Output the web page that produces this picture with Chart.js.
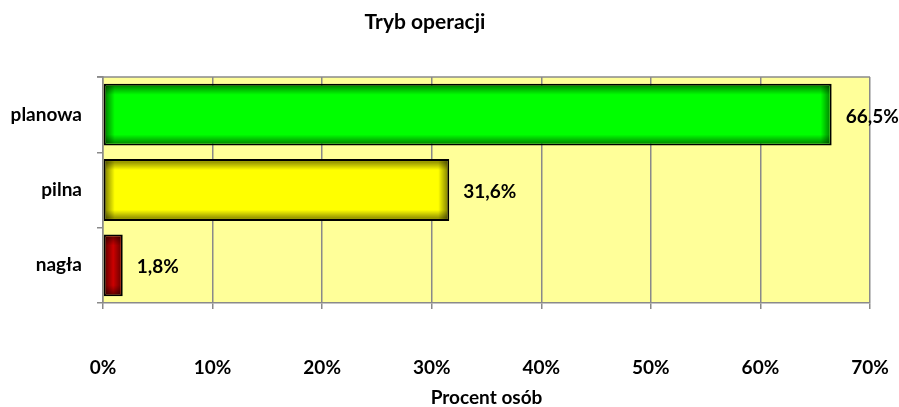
<!DOCTYPE html>
<html><head><meta charset="utf-8">
<script src="https://cdn.jsdelivr.net/npm/chart.js@4"></script>
<style>html,body{margin:0;padding:0;background:#fff;overflow:hidden}#wrap{width:899px;height:407px;position:relative}canvas{display:block}</style>
</head><body><div id="wrap"><canvas id="c"></canvas></div>
<script>
const chartTitle = 'Tryb operacji';
const axisTitle = 'Procent osób';
const categories = ['planowa', 'pilna', 'nagła'];
const values = [66.5, 31.6, 1.8];
const barColors = ['#00FF00', '#FFFF00', '#CC0000'];
const xTickValues = [0, 10, 20, 30, 40, 50, 60, 70];

const FONT = 'Lato';
const FS = 19;
const GRID = '#8a8a8a';

const fmt = v => String(v).replace('.', ',') + '%';

const bgPlugin = {
  id: 'bg',
  beforeDraw(chart) {
    const {ctx, chartArea: a} = chart;
    ctx.save();
    ctx.fillStyle = '#FFFF99';
    ctx.fillRect(a.left, a.top, a.right - a.left, a.bottom - a.top);
    ctx.restore();
  },
  afterDraw(chart) {
    const {ctx, chartArea: a} = chart;
    ctx.save();
    ctx.strokeStyle = GRID;
    ctx.lineWidth = 1.5;
    ctx.beginPath();
    ctx.moveTo(a.left - 6, a.top);
    ctx.lineTo(a.right, a.top);
    ctx.stroke();
    ctx.fillStyle = '#000';
    ctx.font = `bold 21px ${FONT}`;
    ctx.textAlign = 'center';
    ctx.textBaseline = 'middle';
    ctx.fillText(chartTitle, 425, 22);
    ctx.restore();
  }
};

const shadePlugin = {
  id: 'shade',
  afterDatasetsDraw(chart) {
    const ctx = chart.ctx;
    const meta = chart.getDatasetMeta(0);
    meta.data.forEach((el, i) => {
      const p = el.getProps(['x', 'y', 'base', 'height'], true);
      const left = Math.min(p.base, p.x) + 2, right = Math.max(p.base, p.x) - 2;
      const top = p.y - p.height / 2 + 2, bottom = p.y + p.height / 2 - 2;
      const w = right - left, h = bottom - top;
      if (w <= 0 || h <= 0) return;
      ctx.save();
      ctx.beginPath(); ctx.rect(left, top, w, h); ctx.clip();
      const e = 9;
      const fv = Math.min(e / h, 0.5), fh = Math.min(e / w, 0.5);
      let g = ctx.createLinearGradient(0, top, 0, bottom);
      g.addColorStop(0, 'rgba(0,0,0,0.45)');
      g.addColorStop(fv, 'rgba(0,0,0,0)');
      g.addColorStop(1 - fv, 'rgba(0,0,0,0)');
      g.addColorStop(1, 'rgba(0,0,0,0.45)');
      ctx.fillStyle = g; ctx.fillRect(left, top, w, h);
      g = ctx.createLinearGradient(left, 0, right, 0);
      g.addColorStop(0, 'rgba(0,0,0,0.45)');
      g.addColorStop(fh, 'rgba(0,0,0,0)');
      g.addColorStop(1 - fh, 'rgba(0,0,0,0)');
      g.addColorStop(1, 'rgba(0,0,0,0.45)');
      ctx.fillStyle = g; ctx.fillRect(left, top, w, h);
      ctx.restore();
      ctx.save();
      ctx.fillStyle = '#000';
      ctx.font = `bold ${FS}px ${FONT}`;
      ctx.textAlign = 'left';
      ctx.textBaseline = 'middle';
      ctx.fillText(fmt(values[i]), Math.max(p.base, p.x) + 14, p.y + 2);
      ctx.restore();
    });
  }
};

new Chart(document.getElementById('c'), {
  type: 'bar',
  data: {
    labels: categories,
    datasets: [{
      data: values,
      backgroundColor: barColors,
      borderColor: '#000',
      borderWidth: 2,
      borderSkipped: false,
      barPercentage: 0.82,
      categoryPercentage: 1
    }]
  },
  options: {
    indexAxis: 'y',
    responsive: true,
    maintainAspectRatio: false,
    animation: false,
    layout: {padding: {top: 77, right: 29, left: 0, bottom: 0}},
    plugins: {legend: {display: false}, tooltip: {enabled: false}, title: {display: false}},
    scales: {
      x: {
        min: 0, max: 70,
        afterBuildTicks(scale) { scale.ticks = xTickValues.map(v => ({value: v})); },
        afterFit(scale) { scale.height = 104; scale.paddingLeft = 0; scale.paddingRight = 0; },
        ticks: {
          callback: v => v + '%',
          color: '#000',
          font: {family: FONT, size: FS, weight: 'bold', lineHeight: 1.2},
          padding: 47,
          maxRotation: 0
        },
        grid: {color: GRID, lineWidth: 1.5, tickLength: 6, drawTicks: true},
        border: {color: GRID, width: 1.5},
        title: {
          display: true, text: axisTitle, color: '#000',
          font: {family: FONT, size: FS, weight: 'bold', lineHeight: 1},
          padding: {top: 0, bottom: 0}
        }
      },
      y: {
        afterFit(scale) { scale.width = 103; scale.paddingTop = 0; scale.paddingBottom = 0; },
        ticks: {
          color: '#000',
          font: {family: FONT, size: FS, weight: 'bold'},
          padding: 15
        },
        grid: {offset: true, drawOnChartArea: false, color: GRID, lineWidth: 1.5, tickLength: 6},
        border: {color: GRID, width: 1.5}
      }
    }
  },
  plugins: [bgPlugin, shadePlugin]
});
</script>
</body></html>
